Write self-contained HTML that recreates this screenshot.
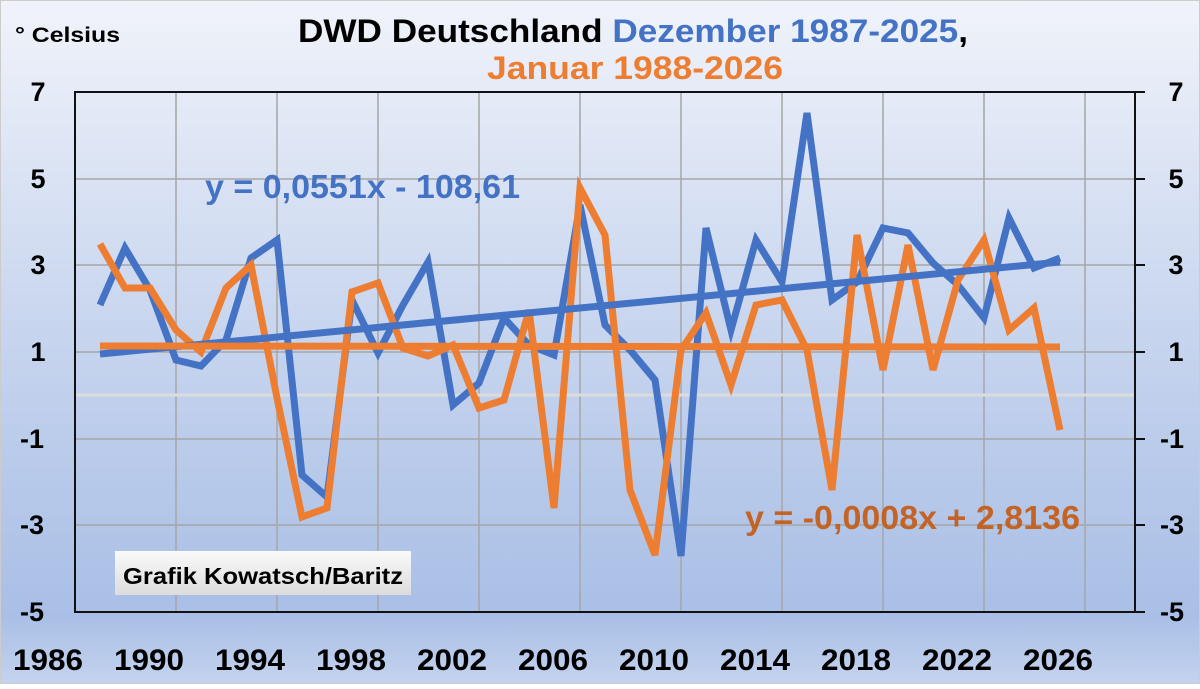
<!DOCTYPE html>
<html><head><meta charset="utf-8"><style>
body{margin:0;width:1200px;height:684px;overflow:hidden;font-family:"Liberation Sans",sans-serif}
</style></head><body>
<svg width="1200" height="684" xmlns="http://www.w3.org/2000/svg">
<defs>
<linearGradient id="bg" x1="0" y1="0" x2="0" y2="1">
<stop offset="0" stop-color="#f0f3fa"/><stop offset="0.5" stop-color="#c6d4ee"/><stop offset="0.9" stop-color="#a9bfe6"/><stop offset="1" stop-color="#c4d3ee"/>
</linearGradient>
<linearGradient id="bx" x1="0" y1="0" x2="0" y2="1"><stop offset="0" stop-color="#fafafa"/><stop offset="1" stop-color="#dcdcdc"/></linearGradient>
</defs>
<rect width="1200" height="684" fill="url(#bg)"/>
<rect x="0.5" y="0.5" width="1199" height="683" fill="none" stroke="#ccc"/>
<g stroke="#a6a6a6" stroke-width="1.5">
<line x1="75" y1="179" x2="1135" y2="179"/><line x1="75" y1="265" x2="1135" y2="265"/><line x1="75" y1="352" x2="1135" y2="352"/>
<line x1="75" y1="439" x2="1135" y2="439"/><line x1="75" y1="525" x2="1135" y2="525"/>
<line x1="176" y1="92" x2="176" y2="612"/><line x1="277" y1="92" x2="277" y2="612"/><line x1="378" y1="92" x2="378" y2="612"/>
<line x1="479" y1="92" x2="479" y2="612"/><line x1="580" y1="92" x2="580" y2="612"/><line x1="681" y1="92" x2="681" y2="612"/>
<line x1="782" y1="92" x2="782" y2="612"/><line x1="883" y1="92" x2="883" y2="612"/><line x1="984" y1="92" x2="984" y2="612"/><line x1="1085" y1="92" x2="1085" y2="612"/>
</g>
<line x1="75" y1="395" x2="1135" y2="395" stroke="#dcdcdc" stroke-width="3"/>
<rect x="75" y="92" width="1060" height="520" fill="none" stroke="#111" stroke-width="2"/>
<g stroke="#111" stroke-width="2"><line x1="1135" y1="92" x2="1145" y2="92"/><line x1="1135" y1="179" x2="1145" y2="179"/><line x1="1135" y1="265" x2="1145" y2="265"/><line x1="1135" y1="352" x2="1145" y2="352"/><line x1="1135" y1="439" x2="1145" y2="439"/><line x1="1135" y1="525" x2="1145" y2="525"/><line x1="1135" y1="612" x2="1145" y2="612"/></g>
<g fill="none" stroke-width="7" stroke-linejoin="miter" stroke-linecap="butt">
<polyline stroke="#4472c4" points="100,305 125,248 150,290 176,360 201,366 226,340 251,258 277,240 302,475 327,497 352,300 378,353 403,305 428,262 453,405 479,383 504,318 529,345 554,355 580,205 605,325 630,350 655,380 681,556 706,228 731,330 756,240 782,282 807,113 832,300 857,282 883,228 908,233 933,263 958,285 984,318 1009,218 1034,268 1060,258"/>
<polyline stroke="#ed7d31" points="100,244 125,288 150,288 176,330 201,352 226,288 251,265 277,398 302,517 327,508 352,292 378,283 403,348 428,356 453,345 479,408 504,400 529,310 554,508 580,188 605,235 630,490 655,555 681,350 706,313 731,385 756,305 782,300 807,350 832,490 857,235 883,370 908,245 933,370 958,280 984,240 1009,330 1034,308 1060,430"/>
<line stroke="#4472c4" x1="100" y1="354" x2="1060" y2="262"/>
<line stroke="#ed7d31" x1="100" y1="346" x2="1060" y2="347"/>
</g>
<g font-weight="bold" font-size="27" fill="#000" text-anchor="middle">
<text x="38" y="101">7</text><text x="38" y="188">5</text><text x="38" y="274">3</text><text x="38" y="361">1</text><text x="32" y="448">-1</text><text x="32" y="534">-3</text><text x="32" y="621">-5</text>
<text x="1176" y="101">7</text><text x="1176" y="188">5</text><text x="1176" y="274">3</text><text x="1176" y="361">1</text><text x="1172" y="448">-1</text><text x="1172" y="534">-3</text><text x="1172" y="621">-5</text>
<g font-size="30"><text x="48" y="670" textLength="70" lengthAdjust="spacingAndGlyphs">1986</text><text x="149" y="670" textLength="70" lengthAdjust="spacingAndGlyphs">1990</text><text x="250" y="670" textLength="70" lengthAdjust="spacingAndGlyphs">1994</text><text x="351" y="670" textLength="70" lengthAdjust="spacingAndGlyphs">1998</text><text x="452" y="670" textLength="70" lengthAdjust="spacingAndGlyphs">2002</text><text x="553" y="670" textLength="70" lengthAdjust="spacingAndGlyphs">2006</text><text x="654" y="670" textLength="70" lengthAdjust="spacingAndGlyphs">2010</text><text x="755" y="670" textLength="70" lengthAdjust="spacingAndGlyphs">2014</text><text x="856" y="670" textLength="70" lengthAdjust="spacingAndGlyphs">2018</text><text x="957" y="670" textLength="70" lengthAdjust="spacingAndGlyphs">2022</text><text x="1058" y="670" textLength="70" lengthAdjust="spacingAndGlyphs">2026</text></g>
</g>
<text x="15" y="42" font-weight="bold" font-size="21" textLength="105" lengthAdjust="spacingAndGlyphs">° Celsius</text>
<text x="298" y="42" font-weight="bold" font-size="32" textLength="670" lengthAdjust="spacingAndGlyphs"><tspan fill="#000">DWD Deutschland </tspan><tspan fill="#4472c4">Dezember 1987-2025</tspan><tspan fill="#000">,</tspan></text>
<text x="487" y="79" font-weight="bold" font-size="32" fill="#ed7d31" textLength="296" lengthAdjust="spacingAndGlyphs">Januar 1988-2026</text>
<text x="205" y="198" font-weight="bold" font-size="33" fill="#4472c4" textLength="315" lengthAdjust="spacingAndGlyphs">y = 0,0551x - 108,61</text>
<text x="745" y="529" font-weight="bold" font-size="33" fill="#c55a11" opacity="0.9" textLength="335" lengthAdjust="spacingAndGlyphs">y = -0,0008x + 2,8136</text>
<rect x="115" y="551" width="296" height="44" fill="url(#bx)"/>
<text x="123" y="584" font-weight="bold" font-size="23" textLength="280" lengthAdjust="spacingAndGlyphs">Grafik Kowatsch/Baritz</text>
</svg>
</body></html>
